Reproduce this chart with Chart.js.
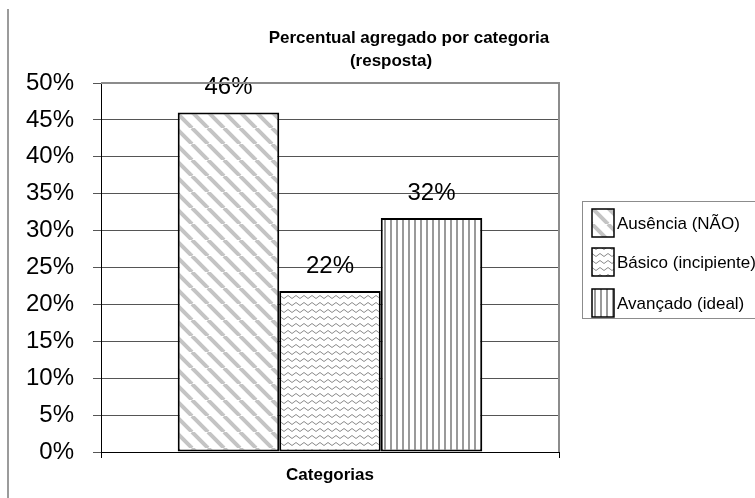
<!DOCTYPE html>
<html>
<head>
<meta charset="utf-8">
<script src="https://cdn.jsdelivr.net/npm/chart.js@4.4.1/dist/chart.umd.min.js"></script>
<style>
  html,body{margin:0;padding:0;background:#fff;}
  #wrap{width:755px;height:498px;}
</style>
</head>
<body>
<div id="wrap"><canvas id="chart" width="755" height="498"></canvas></div>
<script>
// values (percent)
const categories = [''];
const seriesNames = ['Ausência (NÃO)', 'Básico (incipiente)', 'Avançado (ideal)'];
const seriesValues = [46.0, 21.8, 31.7];
const yTicks = [0, 5, 10, 15, 20, 25, 30, 35, 40, 45, 50];
const titleLines = ['Percentual agregado por categoria', '(resposta)'];
const xTitle = 'Categorias';

const FONT = '"Liberation Sans", Arial, sans-serif';

// hatch patterns like the old Excel fills
function makePattern(w, h, draw){
  const c = document.createElement('canvas');
  c.width = w; c.height = h;
  const g = c.getContext('2d');
  g.fillStyle = '#fff';
  g.fillRect(0,0,w,h);
  draw(g);
  return g.createPattern(c, 'repeat');
}

const patDiag = makePattern(16, 16, g=>{
  g.strokeStyle = '#c4c4c4';
  g.lineWidth = 4;
  for(let x0=-16;x0<=16;x0+=16){
    g.beginPath(); g.moveTo(x0,0); g.lineTo(x0+16,16); g.stroke();
  }
});
const patWave = makePattern(8, 7, g=>{
  g.strokeStyle = '#8a8a8a';
  g.lineWidth = 1;
  g.beginPath(); g.moveTo(0,1.5); g.lineTo(4,4.5); g.lineTo(8,1.5); g.stroke();
});
const patVert = makePattern(6, 4, g=>{
  g.fillStyle = '#9a9a9a';
  g.fillRect(0,0,2,4);
});
const patterns = [patDiag, patWave, patVert];

const decor = {
  id:'decor',
  beforeDraw(chart){
    const ctx = chart.ctx;
    ctx.save();
    ctx.fillStyle = '#fff';
    ctx.fillRect(0,0,chart.width,chart.height);
    // left frame line
    ctx.strokeStyle = '#7a7a7a';
    ctx.lineWidth = 1.5;
    ctx.beginPath(); ctx.moveTo(8,9); ctx.lineTo(8,498); ctx.stroke();
    ctx.restore();
  },
  afterDatasetsDraw(chart){
    const ctx = chart.ctx;
    ctx.save();
    ctx.font = '24px ' + FONT;
    ctx.fillStyle = '#000';
    ctx.textAlign = 'center';
    ctx.textBaseline = 'middle';
    chart.data.datasets.forEach((ds,i)=>{
      const bar = chart.getDatasetMeta(i).data[0];
      ctx.fillText(Math.round(ds.data[0]) + '%', bar.x, bar.y - 25);
    });
    ctx.restore();
  },
  afterDraw(chart){
    const ctx = chart.ctx;
    const a = chart.chartArea;
    ctx.save();
    // plot frame top/right
    ctx.strokeStyle = '#8c8c8c';
    ctx.lineWidth = 2;
    ctx.beginPath();
    ctx.moveTo(a.left, a.top); ctx.lineTo(a.right, a.top); ctx.lineTo(a.right, a.bottom);
    ctx.stroke();

    // title
    ctx.fillStyle = '#000';
    ctx.font = 'bold 17px ' + FONT;
    ctx.textAlign = 'center';
    ctx.textBaseline = 'middle';
    ctx.fillText(titleLines[0], 409, 38);
    ctx.fillText(titleLines[1], 391, 61);

    // legend
    ctx.strokeStyle = '#8c8c8c';
    ctx.lineWidth = 1;
    ctx.strokeRect(582.5, 201.5, 200, 117);
    const rows = [223, 262, 303];
    ctx.font = '17px ' + FONT;
    ctx.textAlign = 'left';
    seriesNames.forEach((name,i)=>{
      const y = rows[i];
      ctx.fillStyle = patterns[i];
      ctx.fillRect(592, y-14, 22, 28);
      ctx.strokeStyle = '#000';
      ctx.lineWidth = 1.5;
      ctx.strokeRect(592, y-14, 22, 28);
      ctx.fillStyle = '#000';
      ctx.fillText(name, 617, y+1);
    });
    ctx.restore();
  }
};

new Chart(document.getElementById('chart'), {
  type:'bar',
  data:{
    labels: categories,
    datasets: seriesNames.map((name,i)=>({
      label: name,
      data: [seriesValues[i]],
      backgroundColor: patterns[i],
      borderColor: '#000',
      borderWidth: 2,
      borderSkipped: false,
      categoryPercentage: 0.665,
      barPercentage: 1
    }))
  },
  options:{
    responsive:false,
    animation:false,
    devicePixelRatio:1,
    layout:{ padding:{ left:0, top:83, right:196, bottom:0 } },
    plugins:{ legend:{display:false}, title:{display:false}, tooltip:{enabled:false} },
    scales:{
      x:{
        grid:{ display:true, drawOnChartArea:false, drawTicks:true, tickLength:6, color:'#000', offset:true },
        border:{ display:true, color:'#000', width:1 },
        ticks:{ display:true, font:{family:FONT, size:12} },
        title:{ display:true, text:xTitle, color:'#000', font:{family:FONT, size:17, weight:'bold'}, padding:{top:4, bottom:12} },
        afterFit(s){ s.height = 46; }
      },
      y:{
        min:0, max:50,
        afterBuildTicks(s){ s.ticks = yTicks.map(v=>({value:v})); },
        grid:{ color:'#555', lineWidth:1, tickLength:8, drawTicks:true },
        border:{ display:true, color:'#000', width:1 },
        ticks:{ color:'#000', padding:19, font:{family:FONT, size:24}, callback:v=>v+'%' },
        afterFit(s){ s.width = 101; }
      }
    }
  },
  plugins:[decor]
});
</script>
</body>
</html>
